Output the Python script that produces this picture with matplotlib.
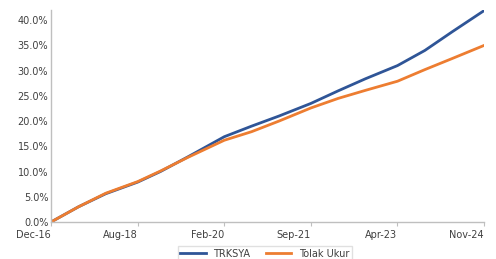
import numpy as np
import matplotlib
matplotlib.use("Agg")
import matplotlib.pyplot as plt
from matplotlib.ticker import PercentFormatter

months = [0, 6, 12, 19, 24, 30, 38, 44, 50, 57, 63, 69, 76, 82, 88, 95]
trksya = [0.0, 3.0, 5.6, 7.9, 10.0, 12.9, 16.9, 19.0, 21.0, 23.5, 26.0, 28.4, 31.0, 34.0, 37.7, 41.9]
tolak_ukur = [0.0, 3.0, 5.7, 8.0, 10.1, 12.8, 16.2, 17.9, 20.0, 22.6, 24.5, 26.1, 27.9, 30.2, 32.4, 35.0]
tick_labels = ["Dec-16", "Aug-18", "Feb-20", "Sep-21", "Apr-23", "Nov-24"]

fig = plt.figure(figsize=(4.96, 2.59), dpi=100)
ax = fig.add_axes([0.103, 0.143, 0.873, 0.818])

ax.plot(months, np.array(trksya) / 100, color="#2F5597", lw=2.0, label="TRKSYA")
ax.plot(months, np.array(tolak_ukur) / 100, color="#ED7D31", lw=2.0, label="Tolak Ukur")

ax.set_xlim(months[0], months[-1])
ax.set_ylim(0, 0.42)
ax.set_yticks(np.arange(0, 0.41, 0.05))
ax.yaxis.set_major_formatter(PercentFormatter(1.0, decimals=1))
ax.set_xticks(np.linspace(months[0], months[-1], len(tick_labels)))
ax.set_xticklabels(tick_labels, ha="right")

for s in ["top", "right"]:
    ax.spines[s].set_visible(False)
for s in ["left", "bottom"]:
    ax.spines[s].set_color("#BFBFBF")
    ax.spines[s].set_linewidth(1.0)
ax.tick_params(axis="x", colors="#BFBFBF", labelcolor="#404040", labelsize=7, length=3, pad=3)
ax.tick_params(axis="y", length=0, labelcolor="#404040", labelsize=7, pad=2)

leg = ax.legend(loc="upper center", bbox_to_anchor=(0.494, -0.09), ncol=2, fontsize=7,
                frameon=True, fancybox=False, edgecolor="#D9D9D9", handlelength=2.6,
                columnspacing=1.6, borderpad=0.3, handletextpad=0.8)
for t in leg.get_texts():
    t.set_color("#404040")

fig.savefig("out.png", dpi=100)
